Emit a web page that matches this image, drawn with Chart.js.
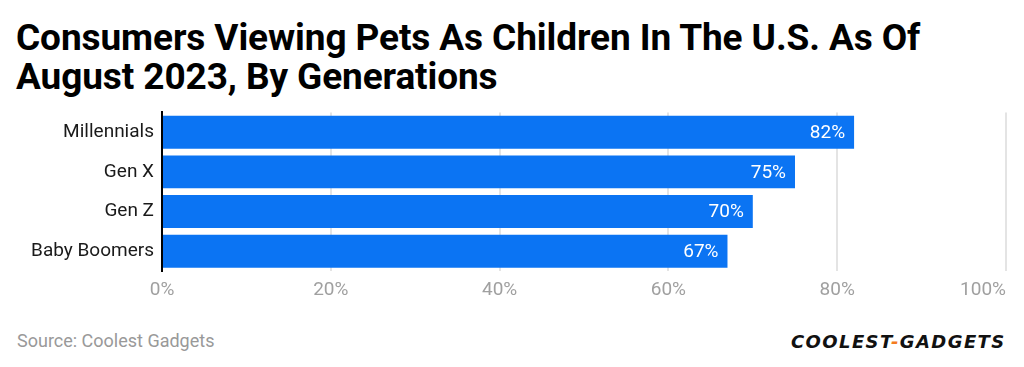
<!DOCTYPE html>
<html>
<head>
<meta charset="utf-8">
<script src="https://cdn.jsdelivr.net/npm/chart.js@4"></script>
<style>
  body { margin: 0; background: #fff; font-family: Roboto, sans-serif; }
  #wrap { position: relative; width: 1024px; height: 367px; overflow: hidden; }
  h1 { position: absolute; left: 16px; top: 18px; margin: 0; font-size: 37px; line-height: 39px; font-weight: 700; color: #000; letter-spacing: -0.1px; white-space: nowrap; }
  #box { position: absolute; left: 0; top: 93px; width: 1024px; height: 218px; }
  #src { position: absolute; left: 17px; top: 330px; font-size: 18px; color: #999; }
  #logo { position: absolute; left: 791px; top: 331px; font-size: 18px; font-weight: 900; font-style: italic; color: #111; letter-spacing: 1.4px; font-family: "DejaVu Sans", sans-serif; white-space: nowrap; }
  #logo span { color: #f47b20; }
</style>
</head>
<body>
<div id="wrap">
  <h1>Consumers Viewing Pets As Children In The U.S. As Of<br>August 2023, By Generations</h1>
  <div id="box"><canvas id="c"></canvas></div>
  <div id="src">Source: Coolest Gadgets</div>
  <div id="logo">COOLEST<span>-</span>GADGETS</div>
</div>
<script>
const categories = ["Millennials", "Gen X", "Gen Z", "Baby Boomers"];
const shares = [82, 75, 70, 67];
const tickLabels = ["0%", "20%", "40%", "60%", "80%", "100%"];

// etiquetas dentro de las barras + eje x a mano
const labelsPlugin = {
    id: "labels",
    afterDatasetsDraw(chart) {
        const ctx = chart.ctx;
        const meta = chart.getDatasetMeta(0);
        ctx.save();
        ctx.font = "19px Roboto";
        ctx.fillStyle = "#fff";
        ctx.textAlign = "right";
        ctx.textBaseline = "middle";
        meta.data.forEach((bar, i) => {
            ctx.fillText(shares[i] + "%", bar.x - 9, bar.y + 1);
        });
        const xs = chart.scales.x;
        ctx.fillStyle = "#a0a0a0";
        tickLabels.forEach((t, i) => {
            const px = xs.getPixelForValue(i * 20);
            ctx.textAlign = i === tickLabels.length - 1 ? "right" : "center";
            ctx.fillText(t, px, chart.chartArea.bottom + 19);
        });
        ctx.restore();
    }
};

new Chart(document.getElementById("c"), {
    type: "bar",
    data: {
        labels: categories,
        datasets: [{ data: shares, backgroundColor: "#0b74f3", barPercentage: 0.83, categoryPercentage: 1 }]
    },
    options: {
        indexAxis: "y",
        responsive: true,
        maintainAspectRatio: false,
        animation: false,
        layout: { padding: { top: 2, right: 18, left: 0, bottom: 0 } },
        plugins: { legend: { display: false }, tooltip: { enabled: false } },
        scales: {
            x: {
                min: 0, max: 100,
                ticks: { display: false, stepSize: 20 },
                grid: { color: "#e4e4e4", lineWidth: 2, drawTicks: false },
                border: { display: false },
                afterFit(s) { s.height = 40; }
            },
            y: {
                ticks: { color: "#1a1a1a", font: { family: "Roboto", size: 19 }, padding: 8 },
                grid: { display: false, drawTicks: false },
                border: { color: "#000", width: 2 },
                afterFit(s) { s.width = 162; }
            }
        }
    },
    plugins: [labelsPlugin]
});
</script>
</body>
</html>
